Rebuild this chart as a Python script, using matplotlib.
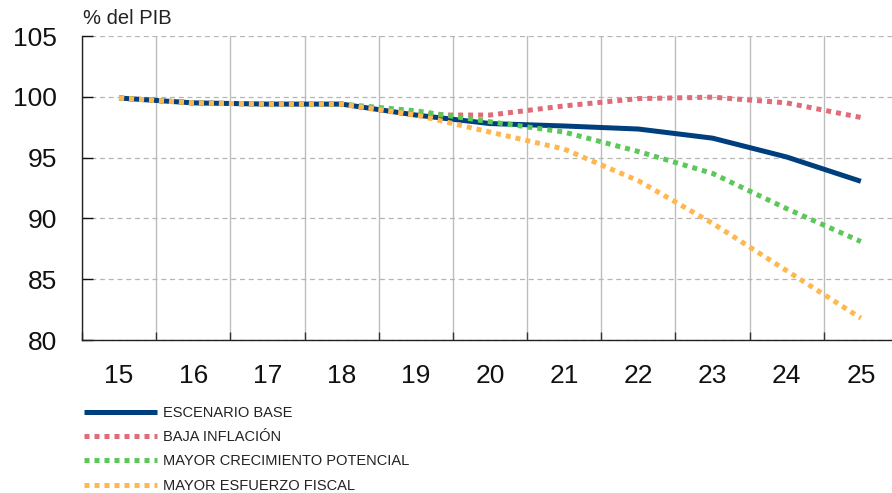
import numpy as np
import matplotlib
matplotlib.use("Agg")
import matplotlib.pyplot as plt
from matplotlib.ticker import FixedLocator

plt.rcParams['font.family'] = ['Liberation Sans', 'DejaVu Sans']

years = ['15', '16', '17', '18', '19', '20', '21', '22', '23', '24', '25']
base = [99.9, 99.5, 99.4, 99.4, 98.5, 97.8, 97.6, 97.35, 96.6, 95.05, 93.05]
baja_inflacion = [99.9, 99.5, 99.4, 99.4, 98.5, 98.5, 99.25, 99.85, 99.97, 99.5, 98.3]
mayor_crecimiento = [99.9, 99.5, 99.4, 99.4, 98.85, 97.95, 97.1, 95.5, 93.7, 90.8, 88.1]
mayor_esfuerzo = [99.9, 99.5, 99.4, 99.4, 98.5, 97.1, 95.7, 93.1, 89.6, 85.7, 81.8]

labels = ['ESCENARIO BASE', 'BAJA INFLACIÓN',
          'MAYOR CRECIMIENTO POTENCIAL', 'MAYOR ESFUERZO FISCAL']
colors = ['#003f7d', '#e06c7a', '#5cc85a', '#ffb84f']

fig = plt.figure(figsize=(8.92, 4.93), dpi=100)
ax = fig.add_axes([82 / 892, 153 / 493, 810 / 892, 304 / 493])

x = np.arange(len(years))
lw = 3.6
ax.plot(x, base, color=colors[0], lw=lw, solid_capstyle='butt', label=labels[0], zorder=3)
for vals, c, lab in zip([baja_inflacion, mayor_crecimiento, mayor_esfuerzo], colors[1:], labels[1:]):
    ax.plot(x, vals, color=c, lw=lw, dashes=(1.0, 1.0), dash_capstyle='butt',
            label=lab, zorder=4)

ax.set_xlim(-0.5, 10.42)
ax.set_ylim(80, 105)
ax.set_yticks([80, 85, 90, 95, 100, 105])
ax.set_xticks(x)
ax.set_xticklabels(years)
ax.xaxis.set_minor_locator(FixedLocator(np.arange(-0.5, 10.5, 1)))

ax.tick_params(axis='y', direction='in', length=8, width=1, pad=18, labelsize=19, colors='#111111')
ax.tick_params(axis='x', which='major', length=0, pad=17, labelsize=19, colors='#111111')
ax.tick_params(axis='x', which='minor', direction='in', length=6, width=1, color='#333333')

for s in ['top', 'right']:
    ax.spines[s].set_visible(False)
ax.spines['left'].set_color('#222222')
ax.spines['bottom'].set_color('#222222')
ax.spines['left'].set_linewidth(1)
ax.spines['bottom'].set_linewidth(1)

ax.grid(axis='y', which='major', color='#b5b5b5', linestyle=(0, (4, 3)), lw=0.9)
ax.grid(axis='x', which='minor', color='#bdbdbd', linestyle='-', lw=1.0)
ax.set_axisbelow(True)

fig.text(83 / 892, 1 - 19 / 493, '% del PIB', fontsize=14.5, va='center', ha='left', color='#222222')

leg = ax.legend(loc='upper left', bbox_to_anchor=(84 / 892, 1 - 406 / 493),
                bbox_transform=fig.transFigure, frameon=False, ncol=1,
                prop={'size': 10.5},
                handlelength=5.0, handletextpad=0.4, labelspacing=0.7,
                borderpad=0, borderaxespad=0)
for t in leg.get_texts():
    t.set_color('#222222')

fig.savefig('out.png', dpi=100)
